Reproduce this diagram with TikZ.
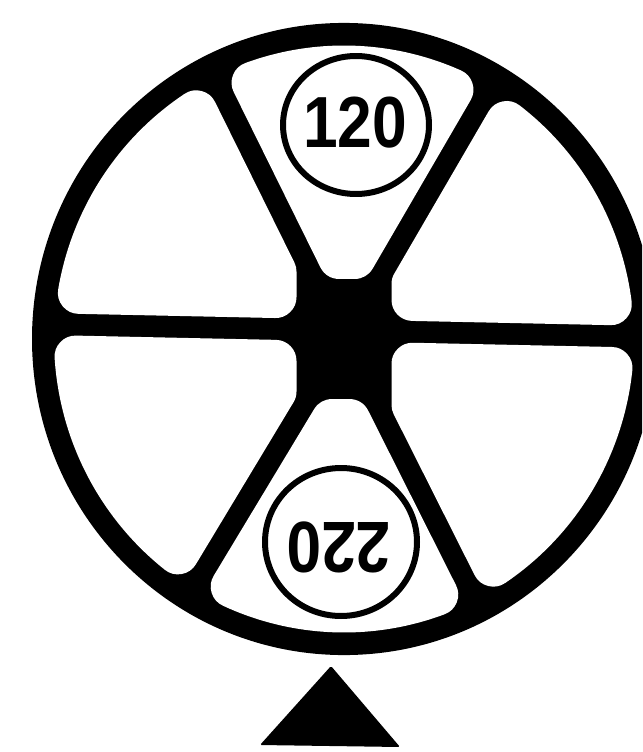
\documentclass[tikz,border=0pt]{standalone}
\usepackage{fontspec}
\newfontfamily\digitfont{Liberation Sans}
\usetikzlibrary{shapes.geometric}
\newcommand\edgeU[3]{({#3},{(#2-cos(#1)*(#3))/sin(#1)})}
\newcommand\edgeV[3]{({(#2-sin(#1)*(#3))/cos(#1)},{#3})}
\begin{document}
\begin{tikzpicture}[x=0.05cm,y=-0.05cm,
  badge/.style={draw=black,line width=0.3cm,ellipse,inner sep=0pt},
  num/.style={font=\digitfont\bfseries\fontsize{103}{103}\selectfont,inner sep=0pt,xscale=0.86}]
\pgfmathsetmacro\rr{21}
\pgfmathsetmacro\Rc{290-\rr}
\pgfmathsetmacro\dS{10.5+\rr}
\pgfmathsetmacro\dT{19+\rr}
\pgfmathsetmacro\dB{2+\rr}
\pgfmathsetmacro\tV{59+\rr}
\pgfmathsetmacro\tU{47.5+\rr}
\pgfmathsetmacro\lw{0.1*\rr}
\tikzset{hole/.style={fill=white,draw=white,line width=\lw cm,line join=round}}
\useasboundingbox (0,0) rectangle (642,752);
\clip (0,0) rectangle (642,752);
\fill[white] (0,0) rectangle (642,752);
\coordinate (O) at (344,339);
\begin{scope}[shift={(O)}, yscale=-1.013]
  % wheel disk
  \fill[black] (0,0) circle[radius=312];
  % top hole
  \path[hole] ({149.5-acos(\dS/\Rc)}:\Rc) arc[start angle={149.5-acos(\dS/\Rc)}, end angle={26.6+acos(\dS/\Rc)}, radius=\Rc]
     -- \edgeV{26.6}{\dS}{\tV} -- \edgeV{149.5}{\dS}{\tV} -- cycle;
  % upper-left hole
  \path[hole] ({206.6-acos(\dS/\Rc)}:\Rc) arc[start angle={206.6-acos(\dS/\Rc)}, end angle={88.8+acos(\dT/\Rc)}, radius=\Rc]
     -- \edgeU{88.8}{\dT}{-\tU} -- \edgeU{206.6}{\dS}{-\tU} -- cycle;
  % upper-right hole
  \path[hole] ({88.8-acos(\dT/\Rc)}:\Rc) arc[start angle={88.8-acos(\dT/\Rc)}, end angle={-30.5+acos(\dS/\Rc)}, radius=\Rc]
     -- \edgeU{-30.5}{\dS}{\tU} -- \edgeU{88.8}{\dT}{\tU} -- cycle;
  % lower-left hole
  \path[hole] ({268.8-acos(\dB/\Rc)}:\Rc) arc[start angle={268.8-acos(\dB/\Rc)}, end angle={148.6+acos(\dS/\Rc)}, radius=\Rc]
     -- \edgeU{148.6}{\dS}{-\tU} -- \edgeU{268.8}{\dB}{-\tU} -- cycle;
  % lower-right hole
  \path[hole] ({27-acos(\dS/\Rc)}:\Rc) arc[start angle={27-acos(\dS/\Rc)}, end angle={268.8+acos(\dB/\Rc)-360}, radius=\Rc]
     -- \edgeU{268.8}{\dB}{\tU} -- \edgeU{27}{\dS}{\tU} -- cycle;
  % bottom hole
  \path[hole] ({328.6-acos(\dS/\Rc)}:\Rc) arc[start angle={328.6-acos(\dS/\Rc)}, end angle={207+acos(\dS/\Rc)}, radius=\Rc]
     -- \edgeV{207}{\dS}{-\tV} -- \edgeV{328.6}{\dS}{-\tV} -- cycle;
\end{scope}
% badges
\node[badge, minimum width=7.3cm, minimum height=6.9cm] (b120) at (356,125) {};
\node[num] (t120) at (355,123) {120};
\node[badge, minimum width=7.6cm, minimum height=7.4cm] (b220) at (341,542) {};
\node[num, rotate=180] (t220) at (339,547) {220};
% pointer triangle
\coordinate (ta) at (331,666);
\coordinate (tl) at (260,745);
\coordinate (tr) at (400,747);
\fill[black, rounded corners=2pt] (ta) -- (tl) -- (tr) -- cycle;
\end{tikzpicture}
\end{document}
